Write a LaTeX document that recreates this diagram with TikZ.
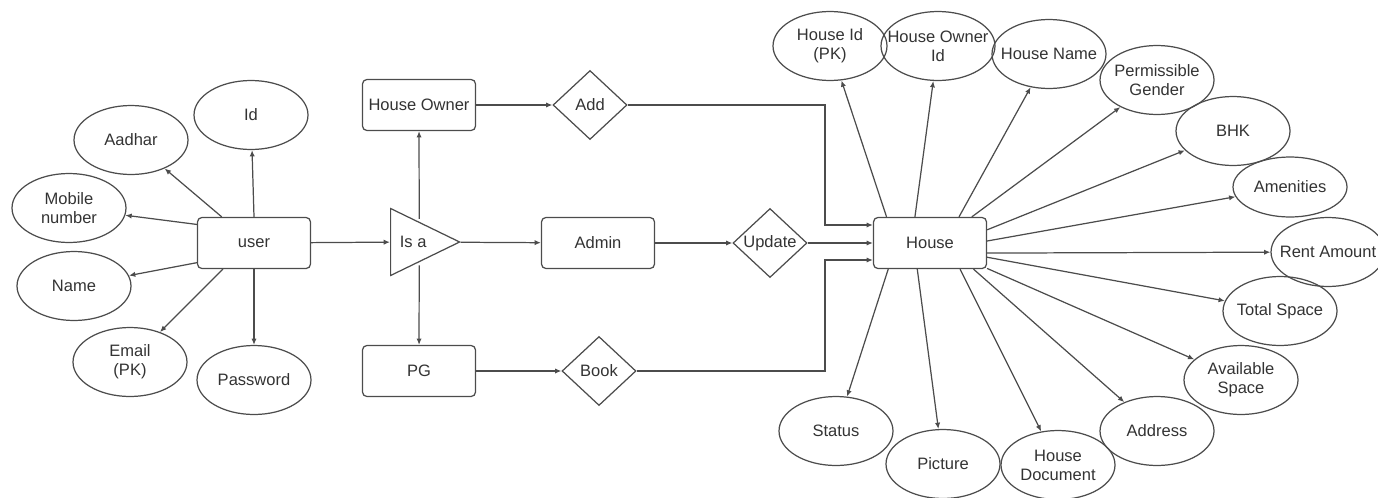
\documentclass[tikz,border=0pt]{standalone}
\usepackage{fontspec}
\setmainfont{Liberation Sans}
\usetikzlibrary{shapes.geometric,arrows.meta}

\begin{document}
\begin{tikzpicture}
  [x=0.02cm,y=-0.02cm,
   every node/.style={draw=black!70,line width=0.7pt,text=black!80,font=\fontsize{9.4}{10.8}\selectfont,align=center},
   ent/.style={rectangle,rounded corners=2.5pt,minimum width=2.26cm,minimum height=1.02cm,inner xsep=1pt},
   attr/.style={ellipse,minimum width=2.28cm,minimum height=1.38cm,inner xsep=-0.6cm,inner ysep=0pt},
   rel/.style={diamond,minimum width=1.48cm,minimum height=1.38cm,inner sep=0pt},
   isabox/.style={isosceles triangle,isosceles triangle stretches,minimum width=1.34cm,minimum height=1.38cm,inner sep=0pt},
   arr/.style={draw=black!70,line width=0.7pt,-{Latex[length=3.6pt,width=3pt]}}]
  \useasboundingbox (0,0) rectangle (1378,497);

  % user and its attributes
  \node[ent] (user) at (254,243) {user};
  \node[attr] (id) at (251,115) {Id};
  \node[attr] (aadhar) at (131,140) {Aadhar};
  \node[attr] (mobile) at (69,208) {Mobile\\number};
  \node[attr] (name) at (74,286) {Name};
  \node[attr] (email) at (130,362) {Email\\(PK)};
  \node[attr] (password) at (254,380) {Password};

  % is a
  \node[isabox,anchor=lower side] (isa) at (390,242) {Is a};
  \node[ent] (howner) at (419,105) {House Owner};
  \node[ent] (admin) at (598,243) {Admin};
  \node[ent] (pg) at (419,371) {PG};
  \node[rel] (add) at (590,105) {Add};
  \node[rel] (update) at (770,243) {Update};
  \node[rel] (book) at (599,371) {Book};

  % house and its attributes
  \node[ent] (house) at (930,243) {House};
  \node[attr] (hid) at (830,46) {House Id\\(PK)};
  \node[attr] (hoid) at (938,46) {House Owner\\Id};
  \node[attr] (hname) at (1049,54) {House Name};
  \node[attr] (pgender) at (1157,80) {Permissible\\Gender};
  \node[attr] (bhk) at (1233,131) {BHK};
  \node[attr,minimum height=1.2cm] (amen) at (1290,187) {Amenities};
  \node[attr] (rent) at (1328,252) {Rent Amount};
  \node[attr] (tspace) at (1280,311) {Total Space};
  \node[attr] (aspace) at (1241,380) {Available\\Space};
  \node[attr] (addr) at (1157,431) {Address};
  \node[attr] (hdoc) at (1058,465) {House\\Document};
  \node[attr] (pic) at (943,464) {Picture};
  \node[attr] (status) at (836,431) {Status};

  \foreach \a/\to in {90/id,141/aadhar,162/mobile,199/name,220/email,270/password}
    \draw[arr] (user.\a) -- (\to);

  \draw[arr] ([xshift=0.12cm]isa.90) -- (howner);
  \draw[arr] ([xshift=0.12cm]isa.270) -- (pg);
  \foreach \from/\to in {user/isa,isa/admin,howner/add,admin/update,pg/book,update/house}
    \draw[arr] (\from) -- (\to);

  \draw[arr] (add) -| ([xshift=-0.96cm,yshift=0.36cm]house.west) -- ([yshift=0.36cm]house.west);
  \draw[arr] (book) -| ([xshift=-0.96cm,yshift=-0.34cm]house.west) -- ([yshift=-0.34cm]house.west);

  \foreach \a/\to in {149/hid,120/hoid,42/hname,32/pgender,13/bhk,2/amen,350/rent,346/tspace,336/aspace,329/addr,319/hdoc,244/pic,212/status}
    \draw[arr] (house.\a) -- (\to);

\end{tikzpicture}
\end{document}
